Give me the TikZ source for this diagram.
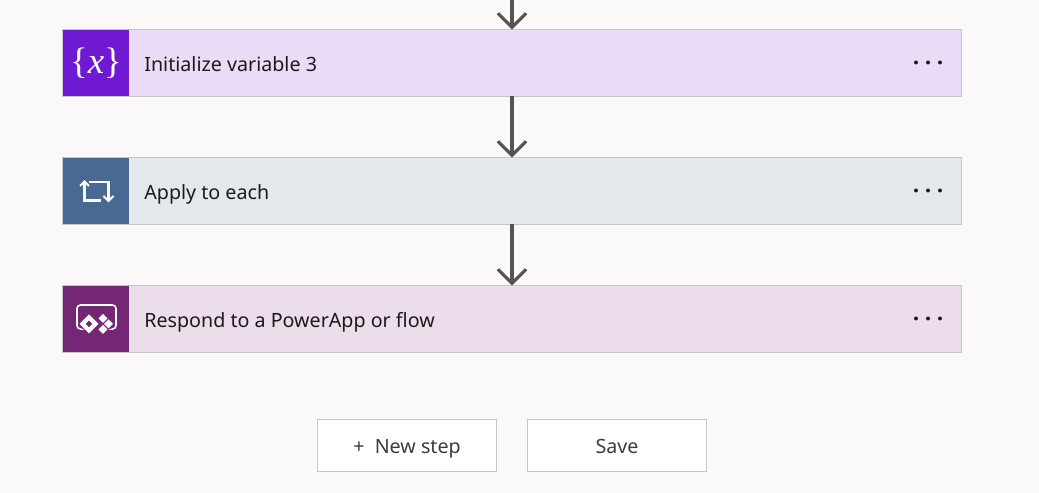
\documentclass[tikz,border=0pt]{standalone}
\usepackage{fontspec}
\setmainfont{Noto Sans}
\newfontfamily\glyphfont{Liberation Serif}
\usetikzlibrary{arrows.meta}
\definecolor{pagebg}{HTML}{FAF9F8}
\definecolor{edgegray}{HTML}{C8C6C4}
\definecolor{arrowgray}{HTML}{555555}
\definecolor{inkdark}{HTML}{1B1A19}
\definecolor{varfill}{HTML}{EADCF7}
\definecolor{varicon}{HTML}{7019D2}
\definecolor{loopfill}{HTML}{E3E8EC}
\definecolor{loopicon}{HTML}{486991}
\definecolor{appfill}{HTML}{ECDDEA}
\definecolor{appicon}{HTML}{742774}
\tikzset{
	flowrow/.style={draw=edgegray, line width=0.6pt, minimum width=17.98cm, minimum height=1.34cm, outer sep=0pt, inner sep=0pt},
	iconbox/.style={minimum width=1.32cm, minimum height=1.32cm, outer sep=0pt, inner sep=0pt, anchor=west},
	rowtext/.style={anchor=base west, inner sep=0pt, text=inkdark, font=\fontsize{11.2}{13}\selectfont},
	btn/.style={draw=edgegray, fill=white, line width=0.6pt, minimum width=3.58cm, minimum height=1.04cm, outer sep=0pt, text height=10.6pt, text depth=1pt, text=inkdark!85, font=\fontsize{11.2}{13}\selectfont},
	arrow/.style={draw=arrowgray, line width=1.8pt, -{Straight Barb[length=8pt, width=16pt, line width=1.8pt]}},
	glyph/.style={draw=white, line width=1.15pt}
}
\begin{document}
\begin{tikzpicture}[x=0.02cm, y=-0.02cm]
	\useasboundingbox[fill=pagebg] (0,0) rectangle (1039,493);
	% rows
	\node[flowrow, fill=varfill] (initvar) at (512,63) {};
	\node[flowrow, fill=loopfill] (applyeach) at (512,191) {};
	\node[flowrow, fill=appfill] (respond) at (512,319) {};
	\node[iconbox, fill=varicon] (varbox) at (initvar.west) {};
	\node[iconbox, fill=loopicon] (loopbox) at (applyeach.west) {};
	\node[iconbox, fill=appicon] (appbox) at (respond.west) {};
	\node[text=white, inner sep=0pt, font=\fontsize{21}{23}\glyphfont] (varglyph) at (96,63) {\{\textit{x}\}};
	\node[rowtext] (varlabel) at (144,72) {Initialize variable 3};
	\node[rowtext] (looplabel) at (144,200) {Apply to each};
	\node[rowtext] (applabel) at (144,328) {Respond to a PowerApp or flow};
	% dots
	\foreach \rowy in {62.5,190.5,318.5}
		\foreach \dotx in {916,928,940}
			\fill[inkdark] (\dotx,\rowy) circle (2);
	% arrows
	\coordinate (topin) at (512,0);
	\draw[arrow] (topin) -- (initvar.north);
	\draw[arrow] (initvar) -- (applyeach);
	\draw[arrow] (applyeach) -- (respond);
	% loop icon
	\draw[glyph] (80,186) -- (84.5,181.5) -- (89,186);
	\draw[glyph] (84.5,181.5) -- (84.5,200.5) -- (101,200.5);
	\draw[glyph] (89,182) -- (108.5,182) -- (108.5,201);
	\draw[glyph] (103.5,196) -- (108.5,201) -- (113.5,196);
	% app icon
	\draw[glyph, line width=0.9pt, rounded corners=2pt] (80,329) -- (77,329) -- (77,305) -- (116,305) -- (116,329) -- (113,329);
	\fill[white, even odd rule] (89,314.5) -- (98.5,324) -- (89,333.5) -- (79.5,324) -- cycle (89,320.5) -- (92.5,324) -- (89,327.5) -- (85.5,324) -- cycle;
	\fill[white] (103,314) -- (107.5,318.5) -- (103,323) -- (98.5,318.5) -- cycle;
	\fill[white] (108.5,319.5) -- (113,324) -- (108.5,328.5) -- (104,324) -- cycle;
	\fill[white] (103,325) -- (107.5,329.5) -- (103,334) -- (98.5,329.5) -- cycle;
	% buttons
	\node[btn] (newstep) at (407,445.5) {+\ \ New step};
	\node[btn] (savebtn) at (617,445.5) {Save};
\end{tikzpicture}
\end{document}
